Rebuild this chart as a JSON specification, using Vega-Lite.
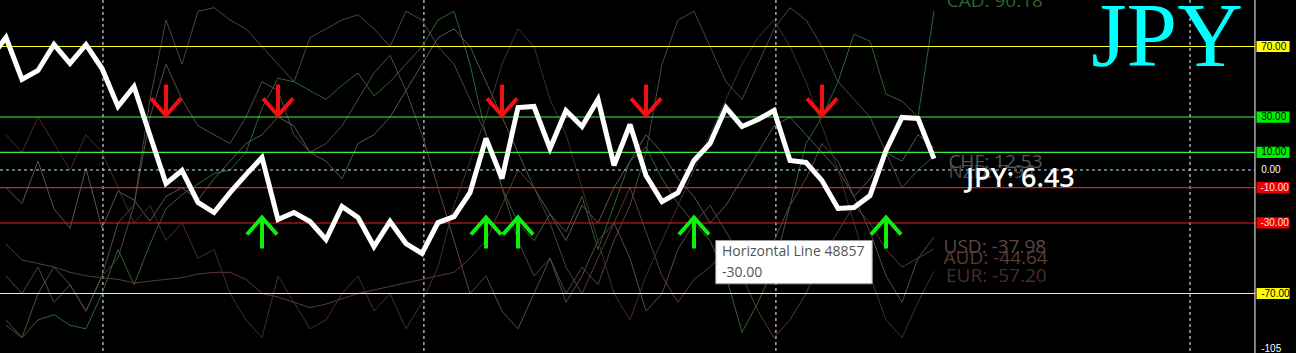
{
  "$schema": "https://vega.github.io/schema/vega-lite/v6.json",
  "width": 1296,
  "height": 353,
  "autosize": {"type": "none"},
  "padding": 0,
  "background": "#000000",
  "config": {"view": {"stroke": null}, "axis": {"disable": true}},
  "datasets": {
    "jpy": [
      {"i": -1, "v": 63}, {"i": 0, "v": 75.1}, {"i": 1, "v": 51.3}, {"i": 2, "v": 56.4}, {"i": 3, "v": 71.1}, {"i": 4, "v": 60.4},
      {"i": 5, "v": 71.1}, {"i": 6, "v": 57.5}, {"i": 7, "v": 36.0}, {"i": 8, "v": 47.3}, {"i": 9, "v": 19.5},
      {"i": 10, "v": -7.7}, {"i": 11, "v": -0.3}, {"i": 12, "v": -18.4}, {"i": 13, "v": -24.1}, {"i": 14, "v": -12.8},
      {"i": 15, "v": -2.6}, {"i": 16, "v": 7.1}, {"i": 17, "v": -28.1}, {"i": 18, "v": -24.1}, {"i": 19, "v": -29.2},
      {"i": 20, "v": -39.4}, {"i": 21, "v": -20.7}, {"i": 22, "v": -26.9}, {"i": 23, "v": -43.4}, {"i": 24, "v": -29.2},
      {"i": 25, "v": -41.7}, {"i": 26, "v": -47.3}, {"i": 27, "v": -29.8}, {"i": 28, "v": -26.4}, {"i": 29, "v": -12.8},
      {"i": 30, "v": 17.9}, {"i": 31, "v": -4.8}, {"i": 32, "v": 35.4}, {"i": 33, "v": 36.0}, {"i": 34, "v": 12.2},
      {"i": 35, "v": 33.7}, {"i": 36, "v": 24.7}, {"i": 37, "v": 40.0}, {"i": 38, "v": 2.6}, {"i": 39, "v": 25.8},
      {"i": 40, "v": -3.1}, {"i": 41, "v": -17.9}, {"i": 42, "v": -12.8}, {"i": 43, "v": 5.4}, {"i": 44, "v": 15.0},
      {"i": 45, "v": 35.4}, {"i": 46, "v": 24.7}, {"i": 47, "v": 28.6}, {"i": 48, "v": 33.7}, {"i": 49, "v": 5.4},
      {"i": 50, "v": 4.3}, {"i": 51, "v": -6.0}, {"i": 52, "v": -21.8}, {"i": 53, "v": -21.3}, {"i": 54, "v": -14.5},
      {"i": 55, "v": 11.1}, {"i": 56, "v": 29.8}, {"i": 57, "v": 29.2}, {"i": 58, "v": 6.43}
    ],
    "others": [
      {"i": 0, "CAD": -88, "CHF": -10, "NZD": -60, "USD": -85, "AUD": -42, "EUR": 20},
      {"i": 1, "CAD": -95, "CHF": -19, "NZD": -70, "USD": -95, "AUD": -51, "EUR": 10},
      {"i": 2, "CAD": -85, "CHF": 5, "NZD": -55, "USD": -70, "AUD": -53, "EUR": 30},
      {"i": 3, "CAD": -82, "CHF": -22, "NZD": -75, "USD": -55, "AUD": -55, "EUR": 15},
      {"i": 4, "CAD": -88, "CHF": -33, "NZD": -65, "USD": -65, "AUD": -58, "EUR": 0},
      {"i": 5, "CAD": -90, "CHF": 1, "NZD": -80, "USD": -80, "AUD": -60, "EUR": 20},
      {"i": 6, "CAD": -70, "CHF": -33, "NZD": -60, "USD": -60, "AUD": -61, "EUR": 10},
      {"i": 7, "CAD": -45, "CHF": -12, "NZD": -50, "USD": -30, "AUD": -62, "EUR": -10},
      {"i": 8, "CAD": -65, "CHF": -17, "NZD": -20, "USD": -20, "AUD": -64, "EUR": -30},
      {"i": 9, "CAD": -42, "CHF": -29, "NZD": 40, "USD": 30, "AUD": -63, "EUR": -20},
      {"i": 10, "CAD": -22, "CHF": -15, "NZD": 85, "USD": 60, "AUD": -62, "EUR": -40},
      {"i": 11, "CAD": -14, "CHF": -10, "NZD": 60, "USD": 40, "AUD": -61, "EUR": -30},
      {"i": 12, "CAD": -8, "CHF": -17, "NZD": 90, "USD": 25, "AUD": -59, "EUR": -50},
      {"i": 13, "CAD": -2, "CHF": -5, "NZD": 92, "USD": 20, "AUD": -58, "EUR": -45},
      {"i": 14, "CAD": 0, "CHF": 5, "NZD": 85, "USD": 15, "AUD": -58, "EUR": -70},
      {"i": 15, "CAD": 10, "CHF": 15, "NZD": 80, "USD": 30, "AUD": -62, "EUR": -85},
      {"i": 16, "CAD": 35, "CHF": 20, "NZD": 70, "USD": 50, "AUD": -70, "EUR": -95},
      {"i": 17, "CAD": 52, "CHF": 30, "NZD": 60, "USD": 45, "AUD": -72, "EUR": -60},
      {"i": 18, "CAD": 50, "CHF": 25, "NZD": 50, "USD": 20, "AUD": -75, "EUR": -75},
      {"i": 19, "CAD": 45, "CHF": 10, "NZD": 75, "USD": 10, "AUD": -78, "EUR": -90},
      {"i": 20, "CAD": 40, "CHF": 5, "NZD": 80, "USD": 15, "AUD": -76, "EUR": -85},
      {"i": 21, "CAD": 48, "CHF": -5, "NZD": 85, "USD": 25, "AUD": -73, "EUR": -70},
      {"i": 22, "CAD": 55, "CHF": 15, "NZD": 88, "USD": 40, "AUD": -70, "EUR": -60},
      {"i": 23, "CAD": 42, "CHF": 20, "NZD": 80, "USD": 55, "AUD": -68, "EUR": -80},
      {"i": 24, "CAD": 50, "CHF": 30, "NZD": 70, "USD": 65, "AUD": -66, "EUR": -70},
      {"i": 25, "CAD": 60, "CHF": 45, "NZD": 90, "USD": 45, "AUD": -64, "EUR": -90},
      {"i": 26, "CAD": 70, "CHF": 60, "NZD": 85, "USD": 20, "AUD": -62, "EUR": -75},
      {"i": 27, "CAD": 85, "CHF": 75, "NZD": 70, "USD": -10, "AUD": -60, "EUR": -55},
      {"i": 28, "CAD": 90, "CHF": 80, "NZD": 60, "USD": -40, "AUD": -58, "EUR": -20},
      {"i": 29, "CAD": 60, "CHF": 70, "NZD": 40, "USD": -70, "AUD": -50, "EUR": 5},
      {"i": 30, "CAD": 20, "CHF": 50, "NZD": 20, "USD": -60, "AUD": -40, "EUR": 30},
      {"i": 31, "CAD": -10, "CHF": 30, "NZD": -10, "USD": -80, "AUD": -20, "EUR": 60},
      {"i": 32, "CAD": -30, "CHF": 10, "NZD": -40, "USD": -90, "AUD": 0, "EUR": 80},
      {"i": 33, "CAD": -40, "CHF": -10, "NZD": -60, "USD": -70, "AUD": -10, "EUR": 70},
      {"i": 34, "CAD": -25, "CHF": -25, "NZD": -50, "USD": -50, "AUD": -30, "EUR": 40},
      {"i": 35, "CAD": -35, "CHF": -40, "NZD": -70, "USD": -75, "AUD": -55, "EUR": 20},
      {"i": 36, "CAD": -15, "CHF": -20, "NZD": -55, "USD": -60, "AUD": -70, "EUR": -10},
      {"i": 37, "CAD": -45, "CHF": -30, "NZD": -65, "USD": -40, "AUD": -50, "EUR": -40},
      {"i": 38, "CAD": -20, "CHF": -10, "NZD": -40, "USD": -30, "AUD": -30, "EUR": -70},
      {"i": 39, "CAD": 5, "CHF": 5, "NZD": -20, "USD": -50, "AUD": -10, "EUR": -85},
      {"i": 40, "CAD": 13, "CHF": 20, "NZD": 10, "USD": -80, "AUD": -35, "EUR": -60},
      {"i": 41, "CAD": -5, "CHF": 10, "NZD": 60, "USD": -70, "AUD": -60, "EUR": -40},
      {"i": 42, "CAD": -19, "CHF": -5, "NZD": 85, "USD": -45, "AUD": -75, "EUR": -20},
      {"i": 43, "CAD": -30, "CHF": -15, "NZD": 90, "USD": -30, "AUD": -62, "EUR": 0},
      {"i": 44, "CAD": -40, "CHF": -30, "NZD": 70, "USD": -20, "AUD": -55, "EUR": 20},
      {"i": 45, "CAD": -60, "CHF": -20, "NZD": 50, "USD": -35, "AUD": -45, "EUR": 40},
      {"i": 46, "CAD": -92, "CHF": -5, "NZD": 40, "USD": -50, "AUD": -60, "EUR": 60},
      {"i": 47, "CAD": -75, "CHF": 10, "NZD": 60, "USD": -60, "AUD": -80, "EUR": 75},
      {"i": 48, "CAD": -55, "CHF": 25, "NZD": 80, "USD": -40, "AUD": -95, "EUR": 85},
      {"i": 49, "CAD": -20, "CHF": 30, "NZD": 92, "USD": -20, "AUD": -85, "EUR": 70},
      {"i": 50, "CAD": 15, "CHF": 20, "NZD": 85, "USD": -5, "AUD": -70, "EUR": 50},
      {"i": 51, "CAD": 30, "CHF": 10, "NZD": 70, "USD": 15, "AUD": -50, "EUR": 25},
      {"i": 52, "CAD": 50, "CHF": 0, "NZD": 50, "USD": 5, "AUD": -35, "EUR": 0},
      {"i": 53, "CAD": 77, "CHF": -15, "NZD": 40, "USD": -15, "AUD": -20, "EUR": -30},
      {"i": 54, "CAD": 73, "CHF": -5, "NZD": 30, "USD": -35, "AUD": -30, "EUR": -60},
      {"i": 55, "CAD": 43, "CHF": 10, "NZD": 10, "USD": -60, "AUD": -45, "EUR": -85},
      {"i": 56, "CAD": 39, "CHF": 5, "NZD": -10, "USD": -75, "AUD": -55, "EUR": -95},
      {"i": 57, "CAD": 30, "CHF": 20, "NZD": 0, "USD": -50, "AUD": -50, "EUR": -75},
      {"i": 58, "CAD": 90.18, "CHF": 12.53, "NZD": 7.94, "USD": -37.98, "AUD": -44.64, "EUR": -57.2}
    ],
    "levels": [
      {"v": 70, "kind": "outer", "label": "70.00"},
      {"v": 30, "kind": "upper", "label": "30.00"},
      {"v": 10, "kind": "upper", "label": "10.00"},
      {"v": -10, "kind": "lower", "label": "-10.00"},
      {"v": -30, "kind": "lower", "label": "-30.00"},
      {"v": -70, "kind": "outer", "label": "-70.00"}
    ],
    "plainTicks": [
      {"v": 0, "label": "0.00"},
      {"v": -101.6, "label": "-105"}
    ],
    "separators": [{"i": 6.06}, {"i": 26.12}, {"i": 48.12}, {"i": 74.0}],
    "arrows": [
      {"i": 10, "dir": "down", "v": 39.7}, {"i": 17, "dir": "down", "v": 39.7}, {"i": 31, "dir": "down", "v": 39.7},
      {"i": 40, "dir": "down", "v": 39.7}, {"i": 51, "dir": "down", "v": 39.7},
      {"i": 16, "dir": "up", "v": -35.7}, {"i": 30, "dir": "up", "v": -35.7}, {"i": 32, "dir": "up", "v": -35.7},
      {"i": 43, "dir": "up", "v": -35.7}, {"i": 55, "dir": "up", "v": -35.7}
    ],
    "endLabels": [
      {"cur": "CAD", "text": "CAD: 90.18", "i": 58.8, "v": 92.3},
      {"cur": "NZD", "text": "NZD: 7.94", "i": 58.9, "v": -4.3},
      {"cur": "CHF", "text": "CHF: 12.53", "i": 58.9, "v": 1.3},
      {"cur": "USD", "text": "USD: -37.98", "i": 58.6, "v": -47.3},
      {"cur": "AUD", "text": "AUD: -44.64", "i": 58.6, "v": -53.0},
      {"cur": "EUR", "text": "EUR: -57.20", "i": 58.75, "v": -63.6}
    ],
    "note": [{"i": 44.36, "i2": 54.14, "v": -39.97, "v2": -64.5, "line1": "Horizontal Line 48857", "line2": "-30.00", "tx": 44.75, "b1": -49.0, "b2": -60.8}]
  },
  "layer": [
    {
      "data": {"name": "separators"},
      "mark": {"type": "rule", "color": "#ffffff", "strokeWidth": 1, "strokeDash": [3, 3]},
      "encoding": {
        "x": {"field": "i", "type": "quantitative", "scale": {"domain": [-0.375, 80.625], "nice": false, "zero": false}, "axis": null}
      }
    },
    {
      "data": {"name": "others"},
      "transform": [{"fold": ["CAD", "CHF", "NZD", "USD", "AUD", "EUR"], "as": ["cur", "v"]}],
      "mark": {"type": "line", "strokeWidth": 1},
      "encoding": {
        "x": {"field": "i", "type": "quantitative", "axis": null},
        "y": {"field": "v", "type": "quantitative", "scale": {"domain": [-103.72, 96.356], "nice": false, "zero": false}, "axis": null},
        "color": {"field": "cur", "type": "nominal", "legend": null,
          "scale": {"domain": ["CAD", "CHF", "NZD", "USD", "AUD", "EUR"], "range": ["#2c662c", "#575757", "#484848", "#5c4646", "#5a3a34", "#4a2c2c"]}}
      }
    },
    {
      "data": {"name": "levels"},
      "transform": [{"filter": "datum.kind == 'outer'"}],
      "mark": {"type": "rule", "color": "#ffff20", "strokeWidth": 1},
      "encoding": {
        "y": {"field": "v", "type": "quantitative", "axis": null},
        "x": {"datum": -0.375, "type": "quantitative", "axis": null},
        "x2": {"datum": 78.06}
      }
    },
    {
      "data": {"name": "levels"},
      "transform": [{"filter": "datum.kind == 'upper'"}],
      "mark": {"type": "rule", "color": "#40f040", "strokeWidth": 1.1},
      "encoding": {
        "y": {"field": "v", "type": "quantitative", "axis": null},
        "x": {"datum": -0.375, "type": "quantitative", "axis": null},
        "x2": {"datum": 78.06}
      }
    },
    {
      "data": {"name": "levels"},
      "transform": [{"filter": "datum.kind == 'lower'"}],
      "mark": {"type": "rule", "color": "#f01818", "strokeWidth": 1.1},
      "encoding": {
        "y": {"field": "v", "type": "quantitative", "axis": null},
        "x": {"datum": -0.375, "type": "quantitative", "axis": null},
        "x2": {"datum": 78.06}
      }
    },
    {
      "data": {"name": "plainTicks"},
      "transform": [{"filter": "datum.v == 0"}],
      "mark": {"type": "rule", "color": "#b0e8f4", "strokeWidth": 1, "strokeDash": [3, 3]},
      "encoding": {
        "y": {"field": "v", "type": "quantitative", "axis": null},
        "x": {"datum": -0.375, "type": "quantitative", "axis": null},
        "x2": {"datum": 78.06}
      }
    },
    {
      "data": {"name": "jpy"},
      "mark": {"type": "line", "color": "#ffffff", "strokeWidth": 5, "strokeJoin": "miter", "strokeMiterLimit": 3},
      "encoding": {
        "x": {"field": "i", "type": "quantitative", "axis": null},
        "y": {"field": "v", "type": "quantitative", "axis": null}
      }
    },
    {
      "data": {"name": "arrows"},
      "transform": [{"filter": "datum.dir == 'down'"}],
      "mark": {"type": "point", "filled": false, "opacity": 1, "color": "#f01010", "strokeWidth": 4, "strokeJoin": "miter", "size": 961,
        "shape": "M0,-1L0,1M-0.97,-0.1L0,1L0.97,-0.1"},
      "encoding": {
        "x": {"field": "i", "type": "quantitative", "axis": null},
        "y": {"field": "v", "type": "quantitative", "axis": null}
      }
    },
    {
      "data": {"name": "arrows"},
      "transform": [{"filter": "datum.dir == 'up'"}],
      "mark": {"type": "point", "filled": false, "opacity": 1, "color": "#10f010", "strokeWidth": 4, "strokeJoin": "miter", "size": 961,
        "shape": "M0,1L0,-1M-0.97,0.1L0,-1L0.97,0.1"},
      "encoding": {
        "x": {"field": "i", "type": "quantitative", "axis": null},
        "y": {"field": "v", "type": "quantitative", "axis": null}
      }
    },
    {
      "data": {"name": "endLabels"},
      "mark": {"type": "text", "align": "left", "baseline": "alphabetic", "font": "Open Sans", "fontSize": 19},
      "encoding": {
        "x": {"field": "i", "type": "quantitative", "axis": null},
        "y": {"field": "v", "type": "quantitative", "axis": null},
        "text": {"field": "text", "type": "nominal"},
        "color": {"field": "cur", "type": "nominal", "legend": null}
      }
    },
    {
      "data": {"values": [{"text": "JPY: 6.43", "i": 60, "v": -9.9}]},
      "mark": {"type": "text", "align": "left", "baseline": "alphabetic", "font": "Open Sans", "fontSize": 27, "fontWeight": 600, "color": "#ffffff"},
      "encoding": {
        "x": {"field": "i", "type": "quantitative", "axis": null},
        "y": {"field": "v", "type": "quantitative", "axis": null},
        "text": {"field": "text", "type": "nominal"}
      }
    },
    {
      "data": {"values": [{"text": "JPY", "i": 77.31, "v": 59.2}]},
      "mark": {"type": "text", "align": "right", "baseline": "alphabetic", "font": "Liberation Serif", "fontSize": 91, "color": "#00ffff"},
      "encoding": {
        "x": {"field": "i", "type": "quantitative", "axis": null},
        "y": {"field": "v", "type": "quantitative", "axis": null},
        "text": {"field": "text", "type": "nominal"}
      }
    },
    {
      "data": {"name": "note"},
      "mark": {"type": "rect", "fill": "#ffffff", "stroke": "#9a9a9a", "strokeWidth": 1},
      "encoding": {
        "x": {"field": "i", "type": "quantitative", "axis": null},
        "x2": {"field": "i2"},
        "y": {"field": "v", "type": "quantitative", "axis": null},
        "y2": {"field": "v2"}
      }
    },
    {
      "data": {"name": "note"},
      "mark": {"type": "text", "align": "left", "baseline": "alphabetic", "font": "Open Sans", "fontSize": 14, "color": "#555555"},
      "encoding": {
        "x": {"field": "tx", "type": "quantitative", "axis": null},
        "y": {"field": "b1", "type": "quantitative", "axis": null},
        "text": {"field": "line1", "type": "nominal"}
      }
    },
    {
      "data": {"name": "note"},
      "mark": {"type": "text", "align": "left", "baseline": "alphabetic", "font": "Open Sans", "fontSize": 14, "color": "#555555"},
      "encoding": {
        "x": {"field": "tx", "type": "quantitative", "axis": null},
        "y": {"field": "b2", "type": "quantitative", "axis": null},
        "text": {"field": "line2", "type": "nominal"}
      }
    },
    {
      "data": {"values": [{"i": 78.06}]},
      "mark": {"type": "rule", "color": "#ffffff", "strokeWidth": 1},
      "encoding": {
        "x": {"field": "i", "type": "quantitative", "axis": null}
      }
    },
    {
      "data": {"name": "levels"},
      "transform": [{"filter": "datum.kind == 'outer'"}],
      "mark": {"type": "point", "filled": true, "opacity": 1, "strokeWidth": 0, "color": "#ffff00", "size": 1089,
        "shape": "M-1,-0.34L1,-0.34L1,0.34L-1,0.34Z"},
      "encoding": {
        "x": {"datum": 79.19, "type": "quantitative", "axis": null},
        "y": {"field": "v", "type": "quantitative", "axis": null}
      }
    },
    {
      "data": {"name": "levels"},
      "transform": [{"filter": "datum.kind == 'upper'"}],
      "mark": {"type": "point", "filled": true, "opacity": 1, "strokeWidth": 0, "color": "#00ee00", "size": 1089,
        "shape": "M-1,-0.34L1,-0.34L1,0.34L-1,0.34Z"},
      "encoding": {
        "x": {"datum": 79.19, "type": "quantitative", "axis": null},
        "y": {"field": "v", "type": "quantitative", "axis": null}
      }
    },
    {
      "data": {"name": "levels"},
      "transform": [{"filter": "datum.kind == 'lower'"}],
      "mark": {"type": "point", "filled": true, "opacity": 1, "strokeWidth": 0, "color": "#ee0000", "size": 1089,
        "shape": "M-1,-0.34L1,-0.34L1,0.34L-1,0.34Z"},
      "encoding": {
        "x": {"datum": 79.19, "type": "quantitative", "axis": null},
        "y": {"field": "v", "type": "quantitative", "axis": null}
      }
    },
    {
      "data": {"name": "levels"},
      "transform": [{"filter": "datum.kind != 'lower'"}],
      "mark": {"type": "text", "align": "left", "baseline": "middle", "font": "Liberation Sans", "fontSize": 10, "color": "#000000"},
      "encoding": {
        "x": {"datum": 78.45, "type": "quantitative", "axis": null},
        "y": {"field": "v", "type": "quantitative", "axis": null},
        "text": {"field": "label", "type": "nominal"}
      }
    },
    {
      "data": {"name": "levels"},
      "transform": [{"filter": "datum.kind == 'lower'"}],
      "mark": {"type": "text", "align": "left", "baseline": "middle", "font": "Liberation Sans", "fontSize": 10, "color": "#ffe0e0"},
      "encoding": {
        "x": {"datum": 78.4, "type": "quantitative", "axis": null},
        "y": {"field": "v", "type": "quantitative", "axis": null},
        "text": {"field": "label", "type": "nominal"}
      }
    },
    {
      "data": {"name": "plainTicks"},
      "mark": {"type": "text", "align": "left", "baseline": "middle", "font": "Liberation Sans", "fontSize": 10, "color": "#ffffff"},
      "encoding": {
        "x": {"datum": 78.45, "type": "quantitative", "axis": null},
        "y": {"field": "v", "type": "quantitative", "axis": null},
        "text": {"field": "label", "type": "nominal"}
      }
    }
  ]
}
